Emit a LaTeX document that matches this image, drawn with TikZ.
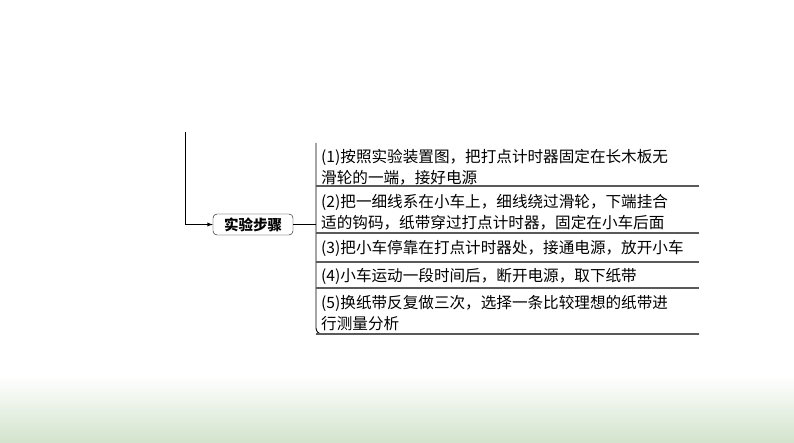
\documentclass[tikz,border=0pt]{standalone}
\usepackage{fontspec}
\setmainfont{Noto Sans CJK SC}
\usepackage{tikz}
\usetikzlibrary{shapes,arrows,positioning}
\definecolor{rulegray}{RGB}{90,90,90}
\definecolor{paleGreen}{RGB}{210,227,204}
\tikzstyle{stepbox} = [draw, rounded corners=4pt, font=\fontsize{14.5}{17}\selectfont\bfseries, minimum width=80pt, minimum height=21pt, inner sep=2pt]
\tikzstyle{steptext} = [anchor=west, align=left, inner sep=0pt, font=\fontsize{15.6}{20.5}\selectfont]
\tikzstyle{sep} = [draw=rulegray, line width=1.3pt]

\begin{document}
\begin{tikzpicture}[x=1pt,y=-1pt]
\useasboundingbox (0,0) rectangle (794,443);
\shade [top color=white, bottom color=paleGreen] (0,376) rectangle (794,443);
% left branch into the title box
\coordinate (top) at (185,132);
\node[stepbox] (title) at (253,224.5) {实验步骤};
\draw [-latex, line width=0.9pt] (top) |- (title.west);
% bracket of the steps
\coordinate (brtop) at (316,143);
\coordinate (brmid) at (316,224.5);
\coordinate (brend) at (699,334);
\draw [line width=0.9pt] (title.east) -- (brmid);
\draw [line width=0.9pt] (brtop) -- (316,328) [rounded corners=6pt] -- (316,334) -- (brend);
\draw [sep] (316,334) -- (brend);
% step texts
\node[steptext] (s1) at (321,167) {(1)按照实验装置图，把打点计时器固定在长木板无\\滑轮的一端，接好电源};
\node[steptext] (s2) at (321,212) {(2)把一细线系在小车上，细线绕过滑轮，下端挂合\\适的钩码，纸带穿过打点计时器，固定在小车后面};
\node[steptext] (s3) at (321,248) {(3)把小车停靠在打点计时器处，接通电源，放开小车};
\node[steptext] (s4) at (321,276) {(4)小车运动一段时间后，断开电源，取下纸带};
\node[steptext] (s5) at (321,313) {(5)换纸带反复做三次，选择一条比较理想的纸带进\\行测量分析};
% row separators
\foreach \y in {186,233,262,288}
  \draw [sep] (316,\y) -- (699,\y);
\end{tikzpicture}
\end{document}
